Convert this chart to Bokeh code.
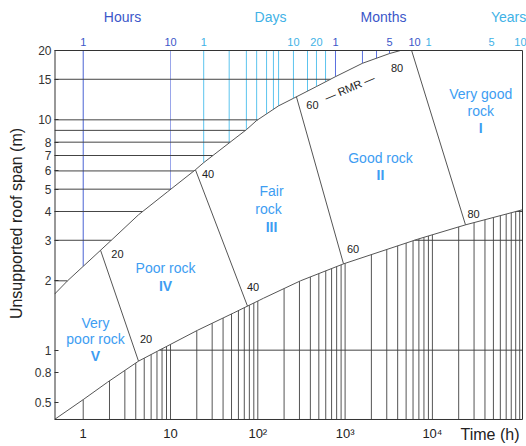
import numpy as np
from bokeh.plotting import figure
from bokeh.models import FixedTicker, ColumnDataSource, Range1d
from bokeh.core.properties import value
from bokeh.embed import file_html
from bokeh.resources import INLINE

# ---------------- data ----------------
# upper boundary of the stand-up-time band (time in h, span in m)
upper_t = [0.469, 0.661, 1.01, 2.06, 4.30, 9.24, 19.3, 23.9, 47.4, 74.2, 96.6, 173, 256, 470, 776, 1580, 3225, 4310]
upper_s = [1.75, 2.00, 2.32, 2.98, 3.87, 4.87, 6.07, 6.51, 7.96, 9.07, 9.92, 11.5, 12.4, 13.95, 15.4, 17.6, 19.4, 20.0]
# lower boundary
lower_t = [0.469, 1.0, 1.9, 4.3, 7.1, 20.4, 52.7, 116, 308, 960, 6930, 23950, 107700]
lower_s = [0.5, 0.61, 0.726, 0.896, 0.99, 1.22, 1.45, 1.68, 2.0, 2.37, 3.04, 3.5, 4.07]

# RMR iso-lines: where they meet the upper and the lower boundary (time, h)
rmr_values = [20, 40, 60, 80]
rmr_top_t = [1.58, 19.3, 277, 5780]
rmr_bottom_t = [4.30, 76.2, 959, 23950]
rmr_label_text = ["20", "20", "40", "40", "60", "60", "80", "80"]
rmr_label_t = [2.47, 5.24, 26.9, 88.1, 423, 1232, 3932, 29570]
rmr_label_s = [2.62, 1.117, 5.83, 1.88, 11.65, 2.75, 16.87, 3.91]

# rock classes
region_text = ["Very good", "rock", "Good rock", "Fair", "rock", "Poor rock", "Very", "poor rock"]
region_t = [35750, 35750, 2544, 143.5, 132.6, 8.77, 1.383, 1.383]
region_s = [13.0, 10.96, 6.85, 4.92, 4.11, 2.275, 1.311, 1.117]
class_text = ["I", "II", "III", "IV", "V"]
class_t = [35750, 2544, 143.5, 8.77, 1.383]
class_s = [9.25, 5.77, 3.43, 1.899, 0.942]

# time grid of the upper-left zone (hours)
hour_lines = [1, 10]
day_lines = [24, 47, 74, 97, 126, 151, 173, 256, 371, 470, 597]
month_lines = [776, 1580, 2290, 3225]
span_lines_upper = [2, 3, 4, 5, 6, 7, 8, 9, 10, 15]
span_lines_lower = [1, 3, 4]

# top scale
top_groups = ["Hours", "Days", "Months", "Years"]
top_group_t = [2.82, 139.8, 2754, 74500]
top_tick_text = ["1", "10", "1", "10", "20", "1", "5", "10", "1", "5", "10"]
top_tick_t = [1, 10, 24, 256, 470, 776, 3225, 6240, 9020, 47500, 102000]
top_tick_group = [0, 0, 1, 1, 1, 2, 2, 2, 3, 3, 3]

x_ticks = [1, 10, 100, 1000, 10000]
x_tick_labels = ["1", "10", "10²", "10³", "10⁴"]
x_title = "Time (h)"
y_ticks = [0.594, 0.8, 1, 2, 3, 4, 5, 6, 7, 8, 10, 15, 20]
y_tick_labels = ["0.5", "0.8", "1", "2", "3", "4", "5", "6", "7", "8", "10", "15", "20"]

# ---------------- drawing ----------------
FONT = "Liberation Sans"
X0, X1 = 0.469, 107700      # chart box, time
Y0, Y1 = 0.5, 20            # chart box, span
VIEW_X = (0.469, 119640)    # visible area incl. right margin
VIEW_Y = (0.3817, 32.97)    # visible area incl. top/bottom margins
Y_TOP_TITLE, Y_TOP_TICK = 28.09, 21.88
Y_BOTTOM_TICK, Y_BOTTOM_TITLE, X_BOTTOM_TITLE = 0.4368, 0.4325, 20990

DARK_BLUE = "#3b57c9"
LIGHT_BLUE = "#3fb2e6"
group_colors = [DARK_BLUE, LIGHT_BLUE, DARK_BLUE, LIGHT_BLUE]
REGION_BLUE = "#3d9df2"
FRAME = "#333333"


def ilog(x, xs, ys):
    return 10 ** np.interp(np.log10(np.asarray(x, dtype=float)), np.log10(xs), np.log10(ys))


p = figure(width=526, height=446, x_axis_type="log", y_axis_type="log",
           x_axis_location=None,
           x_range=Range1d(*VIEW_X), y_range=Range1d(*VIEW_Y),
           output_backend="svg", toolbar_location=None,
           min_border_left=54, min_border_right=0, min_border_top=0, min_border_bottom=0)
p.grid.visible = False
p.outline_line_color = None

# upper-left zone: vertical time lines from the top down to the upper boundary
def vlines_upper(ts, color):
    ts = np.asarray(ts, dtype=float)
    p.segment(x0=ts, y0=np.full(len(ts), Y1), x1=ts, y1=ilog(ts, upper_t, upper_s),
              line_color=color, line_width=1)

vlines_upper(hour_lines[:1], "#4a63d3")
vlines_upper(hour_lines[1:], "#9aa6ea")
vlines_upper(day_lines, "#5cc4ee")
vlines_upper(month_lines, "#5a70e0")

# upper-left zone: horizontal span lines from the axis to the upper boundary
su = np.asarray(span_lines_upper, dtype=float)
p.segment(x0=np.full(len(su), X0), y0=su, x1=ilog(su, upper_s, upper_t), y1=su,
          line_color="#444444", line_width=1)

# lower zone: log grid verticals from the bottom up to the lower boundary
grid_t = np.array([m * 10 ** e for e in range(5) for m in range(1, 10)] + [1e5], dtype=float)
p.segment(x0=grid_t, y0=np.full(len(grid_t), Y0), x1=grid_t, y1=ilog(grid_t, lower_t, lower_s),
          line_color="#555555", line_width=1)
sl = np.asarray(span_lines_lower, dtype=float)
p.segment(x0=ilog(sl, lower_s, lower_t), y0=sl, x1=np.full(len(sl), X1), y1=sl,
          line_color="#444444", line_width=1)

# boundaries
p.line(upper_t, upper_s, line_color="#555555", line_width=1)
p.line(lower_t, lower_s, line_color="#555555", line_width=1)

# RMR iso-lines
rt = np.asarray(rmr_top_t, dtype=float)
rb = np.asarray(rmr_bottom_t, dtype=float)
p.segment(x0=rt, y0=ilog(rt, upper_t, upper_s), x1=rb, y1=ilog(rb, lower_t, lower_s),
          line_color="#555555", line_width=1)

# chart box
p.segment(x0=[X0, X0, X1], y0=[Y1, Y0, Y0], x1=[X1, X1, X1], y1=[Y1, Y0, Y1],
          line_color=FRAME, line_width=1)
p.segment(x0=[X0], y0=[Y0], x1=[X0], y1=[Y1], line_color=FRAME, line_width=2)

p.text(x="t", y="s", text="text",
       source=ColumnDataSource(dict(t=rmr_label_t, s=rmr_label_s, text=rmr_label_text)),
       text_font=value(FONT), text_font_size="11px", text_color="#222222",
       text_align="center", text_baseline="middle")

p.text(x=[1215], y=[13.95], text=["—  RMR  —"], angle=0.40,
       text_font=value(FONT), text_font_size="11px", text_color="#222222",
       text_align="center", text_baseline="middle")

p.text(x="t", y="s", text="text",
       source=ColumnDataSource(dict(t=region_t, s=region_s, text=region_text)),
       text_font=value(FONT), text_font_size="14px", text_color=REGION_BLUE,
       text_align="center", text_baseline="middle")
p.text(x="t", y="s", text="text",
       source=ColumnDataSource(dict(t=class_t, s=class_s, text=class_text)),
       text_font=value(FONT), text_font_size="14px", text_color=REGION_BLUE,
       text_font_style="bold", text_align="center", text_baseline="middle")

# top time scale
p.text(x=top_group_t, y=[Y_TOP_TITLE] * len(top_group_t), text=top_groups,
       text_color=group_colors, text_font=value(FONT), text_font_size="14px",
       text_align="center", text_baseline="middle")
p.text(x=top_tick_t, y=[Y_TOP_TICK] * len(top_tick_t), text=top_tick_text,
       text_color=[group_colors[g] for g in top_tick_group],
       text_font=value(FONT), text_font_size="11px",
       text_align="center", text_baseline="middle")

# bottom time scale
p.text(x=x_ticks, y=[Y_BOTTOM_TICK] * len(x_ticks), text=x_tick_labels,
       text_color="#222222", text_font=value(FONT), text_font_size="13px",
       text_align="center", text_baseline="middle")
p.text(x=[X_BOTTOM_TITLE], y=[Y_BOTTOM_TITLE], text=[x_title],
       text_color="#222222", text_font=value(FONT), text_font_size="16px",
       text_align="left", text_baseline="middle")

# span axis
p.yaxis.ticker = FixedTicker(ticks=y_ticks, minor_ticks=[])
p.yaxis.major_label_overrides = dict(zip(y_ticks, y_tick_labels))
p.yaxis.major_tick_in = 4
p.yaxis.major_tick_out = 0
p.yaxis.major_tick_line_color = FRAME
p.yaxis.minor_tick_line_color = None
p.yaxis.axis_line_color = None
p.yaxis.major_label_text_font = FONT
p.yaxis.major_label_text_font_size = "12px"
p.yaxis.major_label_text_color = "#333333"
p.yaxis.major_label_standoff = 3
p.yaxis.axis_label = "Unsupported roof span (m)"
p.yaxis.axis_label_text_font = FONT
p.yaxis.axis_label_text_font_size = "16px"
p.yaxis.axis_label_text_font_style = "normal"
p.yaxis.axis_label_text_color = "#222222"
p.yaxis.axis_label_standoff = 7

open("out.html", "w").write(file_html(p, INLINE))
